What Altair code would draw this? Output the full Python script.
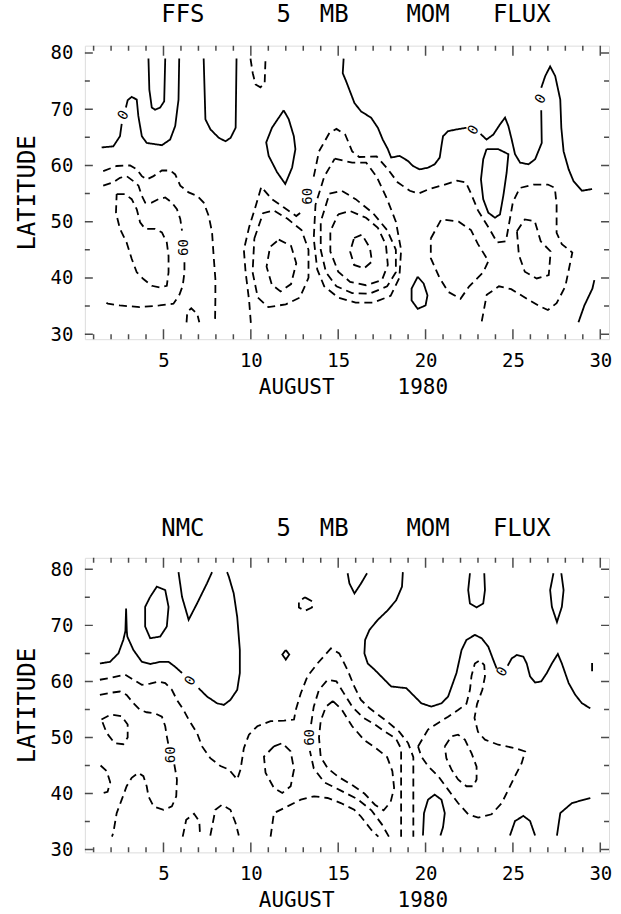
import altair as alt
import pandas as pd

FONT = "DejaVu Sans Mono"
NB = "\u00a0"
X_DOMAIN = [0.5, 30.5]
FFS_Y_DOMAIN = [29.1, 81.3]
NMC_Y_DOMAIN = [29.5, 82.05]
W = 525
FFS_H, NMC_H = 294, 295
X_LABELS = [5, 10, 15, 20, 25, 30]
Y_LABELS = [30, 40, 50, 60, 70, 80]
DAYS = list(range(1, 31))
LAT_TICKS = list(range(30, 81, 5))

# ---------------- FFS panel: zero (solid) contours ----------------
ffs_s1a = [(1.46, 63.2), (2.13, 63.4), (2.51, 65.2), (2.61, 67.4)]
ffs_s1b = [(2.85, 70.3), (2.95, 71.6), (3.18, 72.2), (3.47, 71.7), (3.56, 68.8), (3.76, 65.2),
           (4.04, 64.0), (4.91, 63.6), (5.38, 64.6), (5.67, 67.0), (5.86, 71.7), (5.90, 79.0)]
ffs_s2 = [(4.14, 79.0), (4.19, 73.5), (4.33, 70.3), (4.52, 69.9), (4.81, 70.3), (5.04, 71.4), (5.10, 79.0)]
ffs_s3 = [(7.30, 79.0), (7.40, 68.2), (7.69, 66.4), (8.17, 64.9), (8.55, 64.3), (8.84, 64.9), (9.13, 66.7), (9.18, 79.0)]
ffs_s4 = [(11.88, 69.8), (12.17, 68.2), (12.46, 65.2), (12.55, 62.9), (12.36, 59.6), (11.97, 56.7),
          (11.50, 58.8), (11.02, 61.7), (10.88, 64.1), (11.21, 66.7), (11.88, 69.8)]
ffs_s5a = [(15.31, 79.0), (15.26, 76.4), (15.45, 75.0), (15.93, 71.1), (16.31, 69.6), (16.88, 68.5),
           (17.27, 66.7), (17.55, 64.6), (17.84, 62.9), (18.03, 61.4), (18.51, 61.7), (18.99, 60.8),
           (19.28, 59.9), (19.66, 59.3), (20.14, 59.6), (20.52, 60.2), (20.81, 61.4), (20.91, 63.5),
           (21.00, 65.2), (21.29, 66.1), (21.77, 66.4), (22.34, 66.7)]
ffs_s5b = [(23.15, 65.6), (23.49, 64.6), (23.88, 65.5), (24.26, 67.3), (24.55, 68.5), (24.74, 67.0),
           (24.93, 64.6), (25.12, 62.0), (25.41, 60.5), (25.89, 60.2), (26.27, 61.1), (26.65, 64.0),
           (26.62, 69.8)]
ffs_s5c = [(26.62, 73.8), (26.85, 75.9), (27.13, 77.6), (27.42, 75.9), (27.71, 71.7), (27.77, 66.7),
           (27.90, 62.5), (28.19, 59.3), (28.47, 57.2), (28.95, 55.5), (29.53, 55.8)]
ffs_s6 = [(23.49, 62.9), (24.16, 62.9), (24.74, 62.0), (24.64, 58.7), (24.45, 54.6), (24.26, 51.3),
          (23.97, 50.7), (23.59, 51.6), (23.30, 54.0), (23.17, 57.5), (23.30, 61.1), (23.49, 62.9)]
ffs_s7 = [(19.55, 40.2), (19.89, 39.0), (20.11, 36.9), (20.0, 35.1), (19.55, 34.5), (19.2, 36.0),
          (19.2, 38.1), (19.55, 40.2)]
ffs_s8 = [(28.75, 32.1), (29.09, 35.1), (29.55, 38.1), (29.66, 39.6)]

# ---------------- FFS panel: negative (dashed) contours ----------------
ffs_d1 = [(1.55, 59.0), (2.32, 59.9), (3.09, 60.0), (3.47, 59.3), (3.76, 58.1), (4.04, 57.5), (4.43, 58.1),
          (4.91, 59.1), (5.39, 59.1), (5.67, 58.4), (5.96, 56.4), (6.44, 55.2), (6.92, 54.6), (7.30, 53.4),
          (7.59, 51.0), (7.78, 48.1), (7.87, 43.9), (7.97, 39.8), (7.97, 36.3), (7.95, 32.0)]
ffs_d2a = [(1.55, 56.4), (2.13, 57.0), (2.51, 57.8), (2.89, 58.1), (3.28, 57.2), (3.57, 56.4), (3.76, 54.6),
           (3.95, 53.4), (4.33, 53.4), (4.71, 54.0), (5.10, 54.3), (5.48, 53.4), (5.77, 52.2), (5.96, 50.5),
           (6.06, 48.4)]
ffs_d2b = [(6.2, 42.8), (6.2, 41.0), (6.1, 38.6), (5.91, 37.0), (5.57, 35.4), (4.77, 35.1), (3.64, 34.8),
           (2.5, 35.1), (1.82, 35.4), (1.55, 36.0)]
ffs_d3 = [(2.32, 54.9), (2.80, 54.9), (3.18, 54.0), (3.47, 52.2), (3.66, 49.9), (3.95, 48.7), (4.52, 48.7),
          (4.91, 48.1), (5.19, 46.3), (5.29, 43.9), (5.29, 41.0), (5.19, 38.6), (4.81, 38.3), (4.33, 38.6),
          (3.85, 39.8), (3.47, 41.0), (3.18, 43.4), (2.89, 46.3), (2.51, 48.7), (2.28, 51.6), (2.32, 54.9)]
ffs_d4 = [(6.32, 32.1), (6.36, 33.9), (6.59, 34.6), (6.93, 33.6), (7.05, 32.1)]
ffs_d5 = [(9.98, 79.0), (10.11, 76.4), (10.27, 74.4), (10.55, 73.9), (10.79, 74.6), (10.84, 79.0)]
ffs_d6 = [(11.6, 46.8), (12.3, 45.7), (12.6, 42.6), (12.3, 38.9), (11.7, 37.6), (11.2, 38.8), (10.9, 42.0),
          (11.1, 45.5), (11.6, 46.8)]
ffs_d7 = [(10.2, 47.0), (10.7, 51.5), (11.3, 52.0), (12.1, 50.5), (12.9, 48.5), (13.3, 45.0), (13.3, 40.0),
          (12.8, 36.5), (12.0, 35.3), (11.0, 34.8), (10.4, 36.5), (10.1, 41.0), (10.2, 47.0)]
ffs_d8a = [(10.0, 32.0), (9.9, 36.0), (9.7, 41.0), (9.6, 45.0), (9.9, 49.0), (10.3, 53.0), (10.6, 56.2),
           (11.2, 54.0), (11.9, 52.5), (12.6, 51.0), (13.0, 52.0)]
ffs_d8b = [(13.6, 58.0), (13.9, 62.5), (14.5, 65.8), (14.9, 66.5), (15.4, 65.5), (15.8, 62.5), (16.2, 61.5),
           (17.2, 61.6), (17.8, 59.5), (18.4, 57.0), (19.1, 55.5), (19.6, 55.0), (20.2, 55.8), (21.0, 56.5),
           (21.8, 57.3), (22.3, 57.0), (22.6, 55.0), (23.0, 52.0), (23.6, 49.0), (24.1, 46.3), (24.6, 46.5),
           (24.8, 50.0), (25.0, 53.5), (25.4, 56.0), (26.2, 56.6), (27.0, 56.6), (27.4, 56.0), (27.5, 53.0),
           (27.5, 48.0), (27.8, 46.0), (28.4, 44.5), (28.2, 41.5), (28.0, 38.5), (27.5, 35.5), (27.0, 34.3),
           (26.5, 35.0), (25.8, 36.3), (24.9, 38.0), (24.2, 38.5), (23.5, 37.0), (23.2, 32.0)]
ffs_d9 = [(15.91, 47.1), (16.36, 47.7), (16.82, 45.3), (16.93, 42.9), (16.48, 41.7), (15.91, 42.3),
          (15.68, 44.7), (15.91, 47.1)]
ffs_d10 = [(15.0, 51.3), (15.68, 51.9), (16.59, 50.7), (17.27, 48.9), (17.73, 45.9), (17.84, 42.3),
           (17.5, 39.6), (16.59, 38.7), (15.68, 39.3), (15.0, 41.1), (14.55, 44.7), (14.55, 48.3), (15.0, 51.3)]
ffs_d11 = [(14.5, 55.0), (15.2, 55.5), (16.0, 54.0), (17.0, 51.5), (17.8, 48.5), (18.3, 45.0), (18.3, 41.0),
           (17.8, 38.5), (16.8, 37.2), (15.8, 37.3), (14.9, 38.5), (14.3, 41.0), (14.0, 45.0), (14.0, 50.0),
           (14.5, 55.0)]
ffs_d12 = [(14.8, 61.2), (15.8, 60.5), (16.6, 60.5), (17.2, 58.0), (17.8, 54.0), (18.3, 50.0), (18.6, 45.0),
           (18.5, 40.0), (18.0, 36.8), (17.0, 35.6), (16.0, 35.6), (15.0, 36.5), (14.2, 38.5), (13.8, 41.5),
           (13.6, 47.0), (13.7, 53.0), (14.2, 58.0), (14.8, 61.2)]
ffs_d13 = [(20.3, 47.0), (20.9, 50.4), (21.9, 50.0), (22.6, 48.5), (23.0, 46.0), (23.6, 43.0), (23.3, 41.0),
           (22.5, 38.5), (22.0, 36.3), (21.3, 37.5), (20.8, 40.0), (20.3, 43.5), (20.3, 47.0)]
ffs_d14 = [(25.23, 48.3), (25.68, 50.4), (26.25, 50.1), (26.59, 46.5), (27.16, 44.7), (27.05, 40.5),
           (26.36, 39.9), (25.68, 41.1), (25.34, 44.1), (25.23, 48.3)]

FFS_SOLID = [ffs_s1a, ffs_s1b, ffs_s2, ffs_s3, ffs_s4, ffs_s5a, ffs_s5b, ffs_s5c, ffs_s6, ffs_s7, ffs_s8]
FFS_DASHED = [ffs_d1, ffs_d2a, ffs_d2b, ffs_d3, ffs_d4, ffs_d5, ffs_d6, ffs_d7, ffs_d8a, ffs_d8b,
              ffs_d9, ffs_d10, ffs_d11, ffs_d12, ffs_d13, ffs_d14]
FFS_LABEL_TEXT = ["0", "60", "60", "0", "0"]
FFS_LABEL_DAY = [2.72, 6.15, 13.3, 22.75, 26.6]
FFS_LABEL_LAT = [68.9, 45.4, 54.5, 66.3, 71.8]

# ---------------- NMC panel: zero (solid) contours ----------------
nmc_s1a = [(1.36, 63.2), (1.94, 63.5), (2.42, 65.0), (2.70, 67.4), (2.82, 69.0), (2.86, 73.0), (2.90, 69.0),
           (2.93, 68.0), (3.28, 65.6), (3.76, 63.5), (4.24, 63.1), (4.81, 63.5), (5.29, 63.5), (5.67, 62.6),
           (6.06, 61.5)]
nmc_s1b = [(7.01, 58.8), (7.49, 57.3), (8.07, 56.1), (8.45, 55.8), (8.83, 56.7), (9.22, 58.5), (9.37, 61.5),
           (9.37, 65.6), (9.22, 71.5), (9.02, 75.7), (8.74, 78.7), (8.64, 79.5)]
nmc_s2 = [(4.24, 75.1), (4.62, 76.9), (5.10, 76.3), (5.29, 73.3), (5.19, 69.8), (4.81, 68.0), (4.24, 67.7),
          (3.95, 69.8), (3.95, 73.3), (4.24, 75.1)]
nmc_s3 = [(5.86, 79.5), (6.06, 75.1), (6.44, 71.0), (6.92, 73.9), (7.49, 77.5), (7.78, 79.5)]
nmc_s4 = [(12.0, 65.6), (12.2, 64.8), (12.0, 63.9), (11.8, 64.8), (12.0, 65.6)]
nmc_s5 = [(15.54, 79.3), (15.64, 77.5), (15.93, 75.7), (16.31, 77.5), (16.65, 79.3)]
nmc_s6a = [(18.70, 79.5), (18.65, 76.9), (18.32, 74.5), (17.84, 72.7), (17.27, 71.0), (16.79, 69.2),
           (16.54, 67.4), (16.50, 65.0), (16.69, 63.2), (17.08, 62.1), (17.65, 60.3), (18.03, 59.1),
           (18.90, 58.8), (19.28, 57.6), (19.76, 56.1), (20.33, 55.5), (20.91, 56.1), (21.29, 57.3),
           (21.77, 61.5), (22.06, 65.6), (22.34, 67.4), (22.82, 68.3), (23.21, 67.7), (23.59, 66.2),
           (23.88, 63.8), (24.07, 62.3)]
nmc_s6b = [(24.70, 62.8), (24.93, 64.1), (25.22, 64.7), (25.60, 64.4), (25.79, 63.2), (25.98, 60.9),
           (26.27, 59.8), (26.62, 60.0), (26.94, 61.5), (27.23, 63.2), (27.57, 64.9), (27.80, 63.2),
           (28.19, 59.7), (28.57, 57.6), (28.95, 56.1), (29.43, 55.2)]
nmc_s7 = [(22.54, 79.3), (22.44, 76.3), (22.54, 73.9), (22.92, 73.2), (23.30, 73.9), (23.40, 76.3), (23.36, 79.3)]
nmc_s8 = [(27.32, 79.3), (27.13, 76.3), (27.23, 73.3), (27.52, 70.6), (27.80, 73.3), (27.90, 76.3), (27.77, 79.3)]
nmc_s9 = [(29.53, 61.8), (29.53, 63.3)]
nmc_s10 = [(19.85, 32.5), (19.91, 36.5), (20.14, 38.9), (20.52, 39.8), (20.91, 38.9), (21.10, 36.5),
           (21.0, 34.0), (20.85, 32.5)]
nmc_s11 = [(24.83, 32.5), (25.12, 35.1), (25.60, 36.0), (25.98, 35.1), (26.27, 32.5)]
nmc_s12 = [(27.52, 32.5), (27.71, 36.5), (28.38, 38.3), (29.43, 39.2)]

# ---------------- NMC panel: negative (dashed) contours ----------------
nmc_d1 = [(1.36, 60.3), (1.94, 60.6), (2.80, 61.2), (3.28, 60.3), (3.76, 59.4), (4.24, 59.6), (4.71, 60.0),
          (5.10, 59.7), (5.48, 58.5), (5.77, 56.7), (6.15, 54.9), (6.44, 53.2), (6.92, 50.8), (7.21, 48.4),
          (7.68, 46.3), (8.26, 44.9), (8.74, 44.3), (9.22, 42.5), (9.41, 44.3), (9.60, 48.1), (9.89, 50.5),
          (10.37, 52.0), (11.13, 52.9), (11.90, 53.0), (12.47, 53.2), (12.57, 54.9), (12.86, 57.9),
          (13.24, 60.9), (13.81, 63.2), (14.58, 65.9), (15.06, 65.0), (15.54, 62.0), (15.92, 59.1),
          (16.30, 56.7), (16.8, 55.2), (17.4, 53.8), (17.9, 52.6), (18.5, 51.0), (19.0, 49.0), (19.3, 46.5),
          (19.3, 40.0), (19.3, 32.3)]
nmc_d2a = [(1.36, 57.6), (2.03, 58.0), (2.51, 58.2), (2.89, 57.6), (3.28, 56.1), (3.66, 54.9), (4.04, 54.5),
           (4.52, 54.3), (4.91, 53.7), (5.10, 52.0), (5.19, 50.2), (5.29, 48.6)]
nmc_d2b = [(5.62, 45.2), (5.77, 42.5), (5.73, 39.5), (5.48, 37.7), (5.00, 37.1), (4.43, 37.7), (4.14, 39.5),
           (4.04, 41.3), (3.85, 43.1), (3.57, 43.7), (3.18, 42.8), (2.89, 41.3), (2.61, 38.9), (2.32, 36.5),
           (2.13, 33.0), (2.05, 32.3)]
nmc_d3 = [(1.45, 53.2), (2.0, 54.1), (2.6, 53.8), (2.95, 52.3), (2.95, 50.0), (2.7, 48.8), (2.2, 49.0),
          (1.75, 50.8), (1.45, 53.2)]
nmc_d4 = [(1.4, 45.0), (1.75, 44.0), (1.95, 42.0), (1.8, 40.3), (1.45, 40.0)]
nmc_d5 = [(6.1, 32.3), (6.3, 35.3), (6.75, 36.4), (7.05, 35.0), (7.1, 32.3)]
nmc_d6 = [(7.68, 32.5), (7.97, 37.1), (8.35, 38.0), (8.83, 37.1), (9.12, 34.8), (9.31, 32.5)]
nmc_d7 = [(13.1, 75.0), (13.5, 74.3), (13.5, 73.2), (13.1, 72.6), (12.75, 73.2), (12.75, 74.3), (13.1, 75.0)]
nmc_d8 = [(11.32, 48.4), (11.80, 49.0), (12.28, 47.5), (12.47, 44.3), (12.28, 41.3), (11.80, 40.1),
          (11.32, 41.0), (10.84, 43.7), (10.75, 46.6), (11.32, 48.4)]
nmc_d9 = [(11.13, 32.3), (11.32, 36.5), (12.09, 37.7), (12.86, 38.9), (13.62, 39.5), (14.39, 39.2),
          (15.15, 38.3), (15.92, 37.1), (16.30, 35.9), (16.9, 33.5), (17.3, 32.3)]
nmc_d10a = [(17.9, 32.3), (17.5, 34.5), (16.9, 37.0), (16.1, 39.0), (15.1, 40.6), (14.2, 42.0), (13.6, 44.5),
            (13.38, 47.6)]
nmc_d10b = [(13.45, 52.4), (13.6, 55.5), (13.9, 58.5), (14.4, 60.3), (14.9, 60.0), (15.3, 58.0), (15.8, 55.5),
            (16.4, 53.6), (17.1, 52.3), (17.7, 51.0), (18.3, 49.8), (18.6, 48.0), (18.6, 44.0), (18.6, 32.3)]
nmc_d11 = [(14.7, 56.5), (15.2, 55.0), (15.8, 52.0), (16.5, 49.5), (17.2, 48.0), (17.8, 46.5), (18.1, 44.0),
           (18.2, 41.0), (18.0, 38.5), (17.6, 37.0), (17.1, 38.0), (16.5, 40.0), (15.8, 41.5), (15.0, 43.0),
           (14.4, 44.5), (14.0, 46.5), (13.9, 50.0), (14.0, 53.0), (14.3, 55.5), (14.7, 56.5)]
nmc_d12 = [(19.57, 48.4), (20.14, 51.4), (20.72, 52.6), (21.29, 53.7), (21.86, 54.9), (22.34, 56.0),
           (22.54, 58.5), (22.63, 61.0), (22.82, 63.2), (23.11, 63.8), (23.36, 62.9), (23.40, 60.9),
           (23.25, 58.5), (22.95, 56.0), (22.8, 53.5), (23.0, 51.0), (23.4, 49.6), (24.16, 48.7),
           (25.12, 48.1), (25.70, 47.5), (25.50, 45.4), (25.12, 43.1), (24.74, 40.7), (24.36, 38.3),
           (23.78, 36.3), (23.01, 35.7), (22.44, 36.3), (21.86, 38.3), (21.29, 40.7), (20.72, 43.1),
           (20.14, 44.9), (19.76, 46.6), (19.57, 48.4)]
nmc_d13 = [(21.10, 48.4), (21.48, 50.2), (21.86, 50.5), (22.25, 49.6), (22.63, 47.2), (22.92, 44.8),
           (22.92, 42.5), (22.73, 41.3), (22.34, 41.3), (21.86, 42.5), (21.48, 44.3), (21.19, 46.3),
           (21.10, 48.4)]

NMC_SOLID = [nmc_s1a, nmc_s1b, nmc_s2, nmc_s3, nmc_s4, nmc_s5, nmc_s6a, nmc_s6b, nmc_s7, nmc_s8, nmc_s9,
             nmc_s10, nmc_s11, nmc_s12]
NMC_DASHED = [nmc_d1, nmc_d2a, nmc_d2b, nmc_d3, nmc_d4, nmc_d5, nmc_d6, nmc_d7, nmc_d8, nmc_d9,
              nmc_d10a, nmc_d10b, nmc_d11, nmc_d12, nmc_d13]
NMC_LABEL_TEXT = ["0", "60", "60", "0"]
NMC_LABEL_DAY = [6.55, 5.45, 13.4, 24.4]
NMC_LABEL_LAT = [60.1, 46.9, 50.0, 61.7]

LABEL_ANGLE = {"0": 300, "60": 270}


def contour_frame(solid, dashed):
    rows = []
    for kind, group in (("solid", solid), ("dashed", dashed)):
        for i, line in enumerate(group):
            for j, (d, lt) in enumerate(line):
                rows.append({"cid": f"{kind}{i}", "ord": j, "day": d, "lat": lt, "kind": kind})
    return pd.DataFrame(rows)


def panel(title, solid, dashed, ltext, lday, llat, ydom, h):
    xs = alt.Scale(domain=X_DOMAIN, nice=False, zero=False)
    ys = alt.Scale(domain=ydom, nice=False, zero=False)
    xaxis = alt.Axis(values=X_LABELS, ticks=False, domain=False, grid=False, labelFont=FONT,
                     labelFontSize=19, labelColor="black", labelPadding=12, labelFlush=False,
                     title="AUGUST" + NB * 5 + "1980", titleFont=FONT, titleFontSize=21,
                     titleFontWeight="normal", titleColor="black", titlePadding=6,
                     titleX=W / 2 + 6, titleAlign="center")
    yaxis = alt.Axis(values=Y_LABELS, ticks=False, domain=False, grid=False, labelFont=FONT,
                     labelFontSize=19, labelColor="black", labelPadding=12, labelFlush=False,
                     title="LATITUDE", titleFont=FONT, titleFontSize=24,
                     titleFontWeight="normal", titleColor="black", titlePadding=11)
    df = contour_frame(solid, dashed)
    lines = alt.Chart(df).mark_line(color="black", strokeWidth=1.8, clip=True).encode(
        x=alt.X("day:Q", scale=xs, axis=xaxis),
        y=alt.Y("lat:Q", scale=ys, axis=yaxis),
        detail="cid:N",
        order="ord:Q",
        strokeDash=alt.StrokeDash("kind:N", scale=alt.Scale(domain=["solid", "dashed"],
                                                            range=[[1, 0], [8, 5]]), legend=None),
    )
    lab = pd.DataFrame({"txt": ltext, "day": lday, "lat": llat,
                        "ang": [LABEL_ANGLE[t] for t in ltext]})
    labels = alt.Chart(lab).mark_text(font=FONT, fontSize=14, color="black").encode(
        x=alt.X("day:Q", scale=xs), y=alt.Y("lat:Q", scale=ys), text="txt:N",
        angle=alt.Angle("ang:Q", scale=None))
    xt = pd.DataFrame({"day": DAYS, "len": [20 if d % 5 == 0 else 10 for d in DAYS]})
    yt = pd.DataFrame({"lat": LAT_TICKS, "len": [16 if v % 10 == 0 else 10 for v in LAT_TICKS]})
    tick = dict(color="black", thickness=1.5, clip=True)
    tb = alt.Chart(xt).mark_tick(orient="vertical", **tick).encode(
        x=alt.X("day:Q", scale=xs), y=alt.value(h), size=alt.Size("len:Q", scale=None))
    tt = alt.Chart(xt).mark_tick(orient="vertical", **tick).encode(
        x=alt.X("day:Q", scale=xs), y=alt.value(0), size=alt.Size("len:Q", scale=None))
    tl = alt.Chart(yt).mark_tick(orient="horizontal", **tick).encode(
        y=alt.Y("lat:Q", scale=ys), x=alt.value(0), size=alt.Size("len:Q", scale=None))
    tr = alt.Chart(yt).mark_tick(orient="horizontal", **tick).encode(
        y=alt.Y("lat:Q", scale=ys), x=alt.value(W), size=alt.Size("len:Q", scale=None))
    return alt.layer(lines, labels, tb, tt, tl, tr).properties(
        width=W, height=h,
        title=alt.TitleParams(text=title, font=FONT, fontSize=24, fontWeight="normal",
                              color="black", anchor="middle", offset=17, dx=9))


TITLE_FFS = "FFS" + NB * 5 + "5" + NB * 2 + "MB" + NB * 4 + "MOM" + NB * 3 + "FLUX"
TITLE_NMC = "NMC" + NB * 5 + "5" + NB * 2 + "MB" + NB * 4 + "MOM" + NB * 3 + "FLUX"

top = panel(TITLE_FFS, FFS_SOLID, FFS_DASHED, FFS_LABEL_TEXT, FFS_LABEL_DAY, FFS_LABEL_LAT,
            FFS_Y_DOMAIN, FFS_H)
bottom = panel(TITLE_NMC, NMC_SOLID, NMC_DASHED, NMC_LABEL_TEXT, NMC_LABEL_DAY, NMC_LABEL_LAT,
               NMC_Y_DOMAIN, NMC_H)

chart = alt.vconcat(top, bottom, spacing=118).properties(
    padding={"left": 14, "top": 1, "right": 8, "bottom": 2}
).configure_view(stroke="black", strokeWidth=2.2).configure(background="white")

chart.save("out.html", embed_options={"renderer": "svg", "actions": False})
